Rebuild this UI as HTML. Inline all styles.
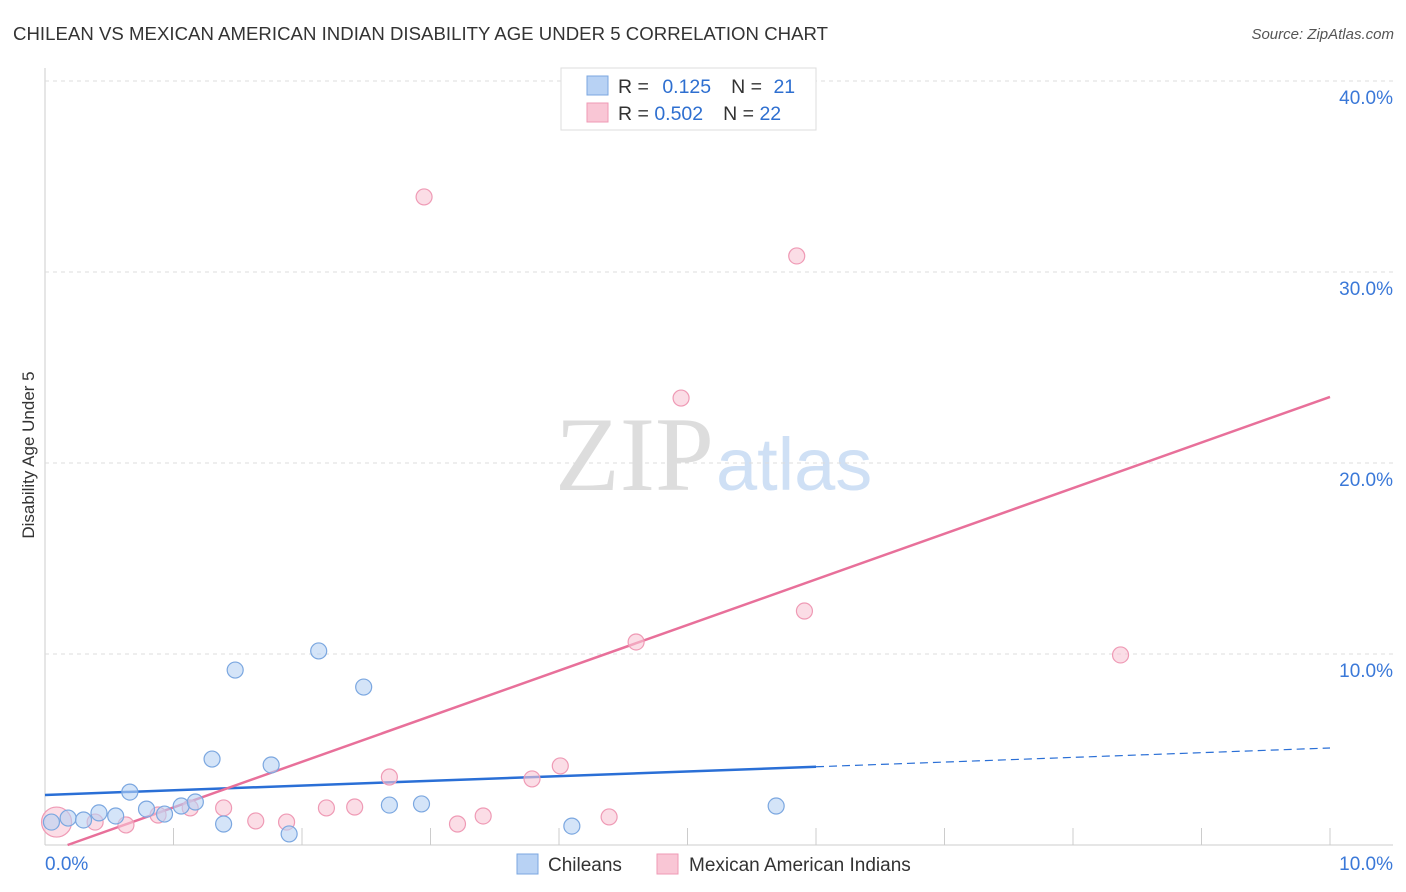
<!DOCTYPE html>
<html><head><meta charset="utf-8"><style>
body{margin:0;background:#fff;font-family:"Liberation Sans",sans-serif}
svg{display:block}
</style></head><body>
<svg id="chart" width="1406" height="892" viewBox="0 0 1406 892">
<text x="13" y="40" font-size="18.6" fill="#333" textLength="815">CHILEAN VS MEXICAN AMERICAN INDIAN DISABILITY AGE UNDER 5 CORRELATION CHART</text>
<text x="1394" y="39" font-size="15" fill="#555" font-style="italic" text-anchor="end">Source: ZipAtlas.com</text>
<text x="714" y="490" font-size="106" fill="#ddd" font-family="Liberation Serif,serif" text-anchor="end">ZIP</text>
<text x="716" y="490" font-size="74" fill="#cfe0f5">atlas</text>
<text transform="translate(34,455) rotate(-90)" font-size="17" fill="#333" text-anchor="middle">Disability Age Under 5</text>
<g id="grid"></g><g id="lines"></g><g id="pts"></g>
<g>
<rect x="561" y="68" width="255" height="62" fill="#fff" stroke="#ddd"/>
<rect x="587" y="76" width="21" height="19" fill="#b8d2f4" stroke="#7ba7e0"/>
<rect x="587" y="103" width="21" height="19" fill="#f9c6d5" stroke="#ef9ab5"/>
<text x="618" y="93" font-size="19.5" fill="#333">R = <tspan fill="#2e6fd0" dx="8">0.125</tspan><tspan fill="#333" dx="20">N = </tspan><tspan fill="#2e6fd0" dx="6">21</tspan></text>
<text x="618" y="120" font-size="19.5" fill="#333">R = <tspan fill="#2e6fd0">0.502</tspan><tspan fill="#333" dx="20">N = </tspan><tspan fill="#2e6fd0">22</tspan></text>
</g>
<g>
<rect x="517" y="854" width="21" height="20" fill="#b8d2f4" stroke="#7ba7e0"/>
<text x="548" y="871" font-size="19" fill="#333">Chileans</text>
<rect x="657" y="854" width="21" height="20" fill="#f9c6d5" stroke="#ef9ab5"/>
<text x="689" y="871" font-size="19" fill="#333">Mexican American Indians</text>
</g>
</svg>
<script>
const blueX=[0.18,0.30,0.42,0.55,0.66,0.79,0.93,1.06,1.17,1.30,1.39,1.48,1.76,1.90,2.13,2.48,2.68,2.93,4.10,5.69,0.05];
const blueY=[1.41,1.31,1.68,1.52,2.77,1.88,1.62,2.04,2.25,4.50,1.10,9.16,4.19,0.58,10.16,8.27,2.09,2.15,0.99,2.04,1.2];
const pinkX=[0.09,0.39,0.63,0.88,1.13,1.39,1.64,1.88,2.19,2.41,2.68,2.95,3.21,3.41,3.79,4.01,4.39,4.60,4.95,5.85,5.91,8.37];
const pinkY=[1.2,1.2,1.05,1.57,1.94,1.94,1.26,1.2,1.94,1.99,3.56,33.93,1.10,1.52,3.46,4.14,1.47,10.63,23.4,30.84,12.25,9.95];
const blueTrend=[2.62,5.08];
const pinkTrend=[-0.42,23.46];
const yTicks=[10,20,30,40];
const yTickLabels=["10.0%","20.0%","30.0%","40.0%"];
const xTicks=[0,1,2,3,4,5,6,7,8,9,10];
const NS="http://www.w3.org/2000/svg";
const X=v=>45+v*128.5, Y=v=>845-v*19.1;
function mk(p,t,a){const e=document.createElementNS(NS,t);for(const k in a)e.setAttribute(k,a[k]);p.appendChild(e);return e;}
const g=document.getElementById('grid'),L=document.getElementById('lines'),P=document.getElementById('pts');
let e=mk(g,'line',{x1:45,y1:68,x2:45,y2:845,stroke:'#ccc'});


e=mk(g,'line',{x1:45,y1:845,x2:1393,y2:845,stroke:'#ccc'});


yTicks.forEach((t,i)=>{
 e=mk(g,'line',{x1:45,y1:Y(t),x2:1393,y2:Y(t),stroke:'#ddd','stroke-dasharray':'4,4'});
 
 
 e=mk(g,'text',{x:1393,y:Y(t)+23,'font-size':19,fill:'#3a78d8','text-anchor':'end'});e.textContent=yTickLabels[i];
 
 
});
xTicks.forEach(t=>{
 e=mk(g,'line',{x1:X(t),y1:828,x2:X(t),y2:845,stroke:'#ccc'});
 
 
});
e=mk(g,'text',{x:45,y:870,'font-size':19,fill:'#3a78d8'});e.textContent='0.0%';


e=mk(g,'text',{x:1393,y:870,'font-size':19,fill:'#3a78d8','text-anchor':'end'});e.textContent='10.0%';


function draw(xs,ys,fill,stroke,name){xs.forEach((x,i)=>{
 const big=(x<0.1&&name==='pink-point');
 e=mk(P,'circle',{cx:X(x),cy:Y(ys[i]),r:big?15:8,fill:fill,'fill-opacity':0.6,stroke:stroke,'stroke-width':1.2});
 
 
});}
draw(pinkX,pinkY,'#f9c6d5','#ef9ab5','pink-point');
draw(blueX,blueY,'#b8d2f4','#7ba7e0','blue-point');
const bAt=x=>blueTrend[0]+(blueTrend[1]-blueTrend[0])*x/10;
e=mk(L,'line',{x1:X(0),y1:Y(bAt(0)),x2:X(6),y2:Y(bAt(6)),stroke:'#2a6fd6','stroke-width':2.5});


e=mk(L,'line',{x1:X(6),y1:Y(bAt(6)),x2:X(10),y2:Y(bAt(10)),stroke:'#2a6fd6','stroke-width':1.2,'stroke-dasharray':'8,5'});


const pAt=x=>pinkTrend[0]+(pinkTrend[1]-pinkTrend[0])*x/10;
const x0=-pinkTrend[0]*10/(pinkTrend[1]-pinkTrend[0]);
e=mk(L,'line',{x1:X(x0),y1:Y(0),x2:X(10),y2:Y(pAt(10)),stroke:'#e8709a','stroke-width':2.5});


</script>
</body></html>
